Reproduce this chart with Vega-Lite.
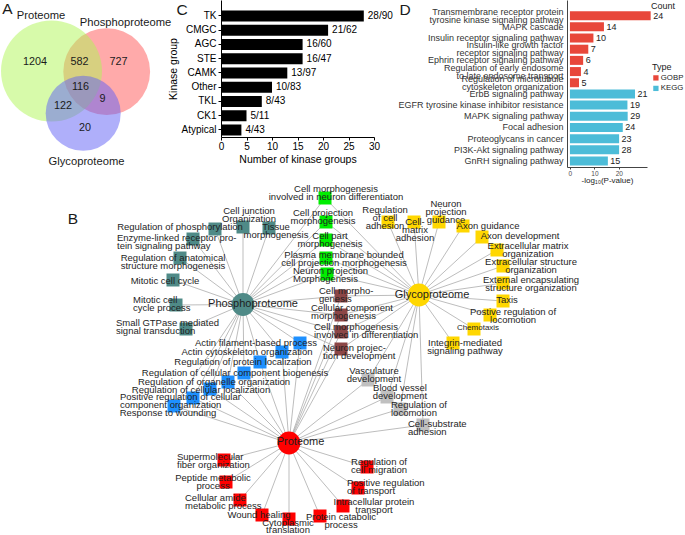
{
"$schema":"https://vega.github.io/schema/vega-lite/v6.json",
"padding":0,
"bounds":"flush",
"spacing":0,
"resolve":{"scale":{"color":"independent"},"legend":{"color":"independent"}},
"config":{"font":"Liberation Sans","view":{"stroke":null},"axis":{"grid":false,"titleFontWeight":"normal","labelFont":"Liberation Sans","titleFont":"Liberation Sans"},"legend":{"labelFont":"Liberation Sans","titleFont":"Liberation Sans"}},
"datasets":{
"venn":[{"set":"Phosphoproteome","x":106.7,"y":71.7,"r":43.4},{"set":"Proteome","x":51.5,"y":71,"r":50.5},{"set":"Glycoproteome","x":83.2,"y":113.3,"r":37.5}],
"vennLabels":[{"t":"Proteome","x":41,"y":16},{"t":"Phosphoproteome","x":125.5,"y":22.7},{"t":"Glycoproteome","x":86.5,"y":162.3}],
"vennCounts":[{"t":"1204","x":35,"y":61.7},{"t":"582","x":79.5,"y":61.7},{"t":"727","x":118.5,"y":61.7},{"t":"116","x":80.5,"y":87.3},{"t":"9","x":102.5,"y":99},{"t":"122","x":63,"y":106},{"t":"20","x":85,"y":128.3}],
"letters":[{"t":"A","x":7.5,"y":8.5},{"t":"B","x":73,"y":218.5},{"t":"C","x":182,"y":9.5},{"t":"D","x":405,"y":9.5}],
"notes":[{"t":"Count","x":663,"y":6}],
"hubs":[{"id":"P","label":"Phosphoproteome","group":"Phospho","x":243,"y":304.5,"lx":253,"ly":304},{"id":"G","label":"Glycoproteome","group":"Glyco","x":419,"y":295,"lx":432,"ly":295},{"id":"R","label":"Proteome","group":"Prot","x":289,"y":443,"lx":300.5,"ly":442}],
"nodes":[
{"id":"T1","label":"Regulation of phosphorylation","group":"Phospho","x":215,"y":229,"lx":180,"ly":227,"just":"c"},
{"id":"T2","label":"Enzyme-linked receptor pro-\ntein signaling pathway","group":"Phospho","x":193,"y":239,"lx":117,"ly":238,"just":"l"},
{"id":"T3","label":"Regulation of anatomical\nstructure morphogenesis","group":"Phospho","x":180,"y":258,"lx":173,"ly":258,"just":"c"},
{"id":"T4","label":"Mitotic cell cycle","group":"Phospho","x":173,"y":280,"lx":165,"ly":281,"just":"c"},
{"id":"T5","label":"Mitotic cell\ncycle process","group":"Phospho","x":176,"y":305,"lx":133,"ly":300,"just":"l"},
{"id":"T6","label":"Small GTPase mediated\nsignal transduction","group":"Phospho","x":186,"y":329,"lx":116,"ly":323,"just":"l"},
{"id":"T7","label":"Cell junction\nOrganization","group":"Phospho","x":243,"y":227,"lx":249,"ly":211,"just":"c"},
{"id":"T8","label":"Tissue\nmorphogenesis","group":"Phospho","x":269,"y":228,"lx":276,"ly":227,"just":"c"},
{"id":"G1","label":"Cell morphogenesis\ninvolved in neuron differentiaton","group":"PhosphoGlyco","x":325,"y":198,"lx":336,"ly":189,"just":"c"},
{"id":"G2","label":"Cell projection\nmorphogenesis","group":"PhosphoGlyco","x":326,"y":222,"lx":323,"ly":213,"just":"c"},
{"id":"G3","label":"Cell part\nmorphogenesis","group":"PhosphoGlyco","x":326,"y":240,"lx":330,"ly":236,"just":"c"},
{"id":"G4","label":"Plasma membrane bounded\ncell projection morphogenesis","group":"PhosphoGlyco","x":326,"y":258,"lx":344,"ly":255,"just":"c"},
{"id":"G5","label":"Neuron projection\nMorphogenesis","group":"PhosphoGlyco","x":327,"y":274,"lx":293,"ly":271,"just":"l"},
{"id":"B1","label":"Cell morpho-\ngenesis","group":"All","x":341,"y":296,"lx":319,"ly":291,"just":"l"},
{"id":"B2","label":"Cellular component\nmorphogenesis","group":"All","x":341,"y":315,"lx":311,"ly":308,"just":"l"},
{"id":"B3","label":"Cell morphogenesis\ninvolved in differentiation","group":"All","x":341,"y":332,"lx":314,"ly":327,"just":"l"},
{"id":"B4","label":"Neuron projec-\ntion development","group":"All","x":341,"y":349,"lx":323,"ly":348,"just":"l"},
{"id":"BL1","label":"Actin filament-based process","group":"PhosphoProt","x":300,"y":343,"lx":256,"ly":343,"just":"c"},
{"id":"BL2","label":"Actin cytoskeleton organization","group":"PhosphoProt","x":282,"y":352,"lx":247,"ly":352,"just":"c"},
{"id":"BL3","label":"Regulation of protein localization","group":"PhosphoProt","x":260,"y":362,"lx":243,"ly":362,"just":"c"},
{"id":"BL4","label":"Regulation of cellular component biogenesis","group":"PhosphoProt","x":244,"y":373,"lx":235,"ly":373,"just":"c"},
{"id":"BL5","label":"Regulation of organelle organization","group":"PhosphoProt","x":228,"y":382,"lx":214,"ly":382,"just":"c"},
{"id":"BL6","label":"Regulation of cellular localization","group":"PhosphoProt","x":210,"y":389,"lx":201,"ly":390,"just":"c"},
{"id":"BL7","label":"Positive regulation of cellular\ncomponent organization","group":"PhosphoProt","x":193,"y":398,"lx":120,"ly":397,"just":"l"},
{"id":"BL8","label":"Response to wounding","group":"PhosphoProt","x":174,"y":406,"lx":168,"ly":413,"just":"c"},
{"id":"Y1","label":"Regulation\nof cell\nadhesion","group":"Glyco","x":388,"y":222,"lx":385,"ly":210,"just":"c"},
{"id":"Y2","label":"Cell-\nmatrix\nadhesion","group":"Glyco","x":414,"y":222,"lx":415,"ly":222,"just":"c"},
{"id":"Y3","label":"Neuron\nprojection\nguidance","group":"Glyco","x":439,"y":222,"lx":446,"ly":204,"just":"c"},
{"id":"Y4","label":"Axon guidance","group":"Glyco","x":463,"y":226,"lx":488,"ly":226,"just":"c"},
{"id":"Y5","label":"Axon development","group":"Glyco","x":482,"y":237,"lx":520,"ly":236,"just":"c"},
{"id":"Y6","label":"Extracellular matrix\norganization","group":"Glyco","x":497,"y":250,"lx":528,"ly":246,"just":"c"},
{"id":"Y7","label":"Extracellular structure\norganization","group":"Glyco","x":503,"y":266,"lx":531,"ly":262,"just":"c"},
{"id":"Y8","label":"External encapsulating\nstructure organization","group":"Glyco","x":503,"y":283,"lx":531,"ly":280,"just":"c"},
{"id":"Y9","label":"Taxis","group":"Glyco","x":503,"y":301,"lx":507,"ly":300,"just":"c"},
{"id":"Y10","label":"Postive regulation of\nlocomotion","group":"Glyco","x":490,"y":315,"lx":513,"ly":312,"just":"c"},
{"id":"Y11","label":"Chemotaxis","group":"Glyco","x":474,"y":329,"lx":478,"ly":328,"just":"c"},
{"id":"Y12","label":"Integrin-mediated\nsignaling pathway","group":"Glyco","x":453,"y":343,"lx":465,"ly":343,"just":"c"},
{"id":"Gr1","label":"Vasculature\ndevelopment","group":"GlycoProt","x":368,"y":380,"lx":374,"ly":371,"just":"c"},
{"id":"Gr2","label":"Blood vessel\ndevelopment","group":"GlycoProt","x":387,"y":397,"lx":400,"ly":388,"just":"c"},
{"id":"Gr3","label":"Regulation of\nlocomotion","group":"GlycoProt","x":400,"y":409,"lx":391,"ly":405,"just":"l"},
{"id":"Gr4","label":"Cell-substrate\nadhesion","group":"GlycoProt","x":423,"y":425,"lx":408,"ly":424,"just":"l"},
{"id":"R1","label":"Supermolecular\nfiber organization","group":"Prot","x":224,"y":460,"lx":177,"ly":457,"just":"l"},
{"id":"R2","label":"Peptide metabolic\nprocess","group":"Prot","x":226,"y":482,"lx":213,"ly":478,"just":"c"},
{"id":"R3","label":"Cellular amide\nmetabolic process","group":"Prot","x":240,"y":500,"lx":185,"ly":498,"just":"l"},
{"id":"R4","label":"Wound healing","group":"Prot","x":262,"y":515,"lx":259,"ly":515,"just":"c"},
{"id":"R5","label":"Cytoplasmic\ntranslation","group":"Prot","x":289,"y":519,"lx":288,"ly":522.5,"just":"c"},
{"id":"R6","label":"Protein catabolic\nprocess","group":"Prot","x":320,"y":516,"lx":341,"ly":517,"just":"c"},
{"id":"R7","label":"Intracellular protein\ntransport","group":"Prot","x":343,"y":506,"lx":374,"ly":502,"just":"c"},
{"id":"R8","label":"Positive regulation\nof transport","group":"Prot","x":358,"y":488,"lx":347,"ly":483,"just":"l"},
{"id":"R9","label":"Regulation of\ncell migration","group":"Prot","x":367,"y":467,"lx":379,"ly":462,"just":"c"}
],
"edges":[
{"hub":"P","node":"T1"},{"hub":"P","node":"T2"},{"hub":"P","node":"T3"},{"hub":"P","node":"T4"},{"hub":"P","node":"T5"},{"hub":"P","node":"T6"},{"hub":"P","node":"T7"},{"hub":"P","node":"T8"},
{"hub":"P","node":"G1"},{"hub":"P","node":"G2"},{"hub":"P","node":"G3"},{"hub":"P","node":"G4"},{"hub":"P","node":"G5"},
{"hub":"P","node":"B1"},{"hub":"P","node":"B2"},{"hub":"P","node":"B3"},{"hub":"P","node":"B4"},
{"hub":"P","node":"BL1"},{"hub":"P","node":"BL2"},{"hub":"P","node":"BL3"},{"hub":"P","node":"BL4"},{"hub":"P","node":"BL5"},{"hub":"P","node":"BL6"},{"hub":"P","node":"BL7"},{"hub":"P","node":"BL8"},
{"hub":"G","node":"Y1"},{"hub":"G","node":"Y2"},{"hub":"G","node":"Y3"},{"hub":"G","node":"Y4"},{"hub":"G","node":"Y5"},{"hub":"G","node":"Y6"},{"hub":"G","node":"Y7"},{"hub":"G","node":"Y8"},{"hub":"G","node":"Y9"},{"hub":"G","node":"Y10"},{"hub":"G","node":"Y11"},{"hub":"G","node":"Y12"},
{"hub":"G","node":"G1"},{"hub":"G","node":"G2"},{"hub":"G","node":"G3"},{"hub":"G","node":"G4"},{"hub":"G","node":"G5"},
{"hub":"G","node":"B1"},{"hub":"G","node":"B2"},{"hub":"G","node":"B3"},{"hub":"G","node":"B4"},
{"hub":"G","node":"Gr1"},{"hub":"G","node":"Gr2"},{"hub":"G","node":"Gr3"},{"hub":"G","node":"Gr4"},
{"hub":"R","node":"R1"},{"hub":"R","node":"R2"},{"hub":"R","node":"R3"},{"hub":"R","node":"R4"},{"hub":"R","node":"R5"},{"hub":"R","node":"R6"},{"hub":"R","node":"R7"},{"hub":"R","node":"R8"},{"hub":"R","node":"R9"},
{"hub":"R","node":"BL1"},{"hub":"R","node":"BL2"},{"hub":"R","node":"BL3"},{"hub":"R","node":"BL4"},{"hub":"R","node":"BL5"},{"hub":"R","node":"BL6"},{"hub":"R","node":"BL7"},{"hub":"R","node":"BL8"},
{"hub":"R","node":"B1"},{"hub":"R","node":"B2"},{"hub":"R","node":"B3"},{"hub":"R","node":"B4"},
{"hub":"R","node":"Gr1"},{"hub":"R","node":"Gr2"},{"hub":"R","node":"Gr3"},{"hub":"R","node":"Gr4"}
],
"kinase":[
{"group":"TK","count":28,"label":"28/90"},
{"group":"CMGC","count":21,"label":"21/62"},
{"group":"AGC","count":16,"label":"16/60"},
{"group":"STE","count":16,"label":"16/47"},
{"group":"CAMK","count":13,"label":"13/97"},
{"group":"Other","count":10,"label":"10/83"},
{"group":"TKL","count":8,"label":"8/43"},
{"group":"CK1","count":5,"label":"5/11"},
{"group":"Atypical","count":4,"label":"4/43"}
],
"enrich":[
{"term":"Transmembrane receptor protein|tyrosine kinase signaling pathway","type":"GOBP","logp":33.0,"count":24},
{"term":"MAPK cascade","type":"GOBP","logp":13.9,"count":14},
{"term":"Insulin receptor signaling pathway","type":"GOBP","logp":9.6,"count":10},
{"term":"Insulin-like growth factor|receptor signaling pathway","type":"GOBP","logp":7.5,"count":7},
{"term":"Ephrin receptor signaling pathway","type":"GOBP","logp":5.4,"count":6},
{"term":"Regulation of early endosome|to late endosome transport","type":"GOBP","logp":4.5,"count":4},
{"term":"Regulation of microtubule|cytoskeleton organization","type":"GOBP","logp":3.7,"count":5},
{"term":"ErbB signaling pathway","type":"KEGG","logp":26.6,"count":21},
{"term":"EGFR tyrosine kinase inhibitor resistance","type":"KEGG","logp":23.5,"count":19},
{"term":"MAPK signaling pathway","type":"KEGG","logp":23.6,"count":29},
{"term":"Focal adhesion","type":"KEGG","logp":21.6,"count":24},
{"term":"Proteoglycans in cancer","type":"KEGG","logp":20.1,"count":23},
{"term":"PI3K-Akt signaling pathway","type":"KEGG","logp":20.1,"count":28},
{"term":"GnRH signaling pathway","type":"KEGG","logp":15.5,"count":15}
]
},
"hconcat":[
{
"width":221,"height":535,
"layer":[
{"data":{"name":"venn"},"mark":{"type":"circle","opacity":0.5},
 "encoding":{"x":{"field":"x","type":"quantitative","scale":{"domain":[0,221],"nice":false,"zero":false},"axis":null},
 "y":{"field":"y","type":"quantitative","scale":{"domain":[0,535],"reverse":true,"nice":false,"zero":false},"axis":null},
 "size":{"field":"r","type":"quantitative","scale":{"type":"pow","exponent":2,"domain":[0,50],"range":[0,10000]},"legend":null},
 "color":{"field":"set","type":"nominal","legend":null,"scale":{"domain":["Proteome","Phosphoproteome","Glycoproteome","Phospho","Glyco","Prot","PhosphoGlyco","PhosphoProt","GlycoProt","All"],"range":["#aff555","#ff5555","#5f5ff5","#4f8a87","#ffd700","#ff0000","#00ee00","#1e90ff","#c0c0c0","#8c4646"]}}}},
{"data":{"name":"vennLabels"},"mark":{"type":"text","fontSize":11.2,"color":"#1a1a1a","baseline":"middle"},
 "encoding":{"x":{"field":"x","type":"quantitative","axis":null},"y":{"field":"y","type":"quantitative","axis":null},"text":{"field":"t"}}},
{"data":{"name":"vennCounts"},"mark":{"type":"text","fontSize":10.8,"color":"#1a1a1a","baseline":"middle"},
 "encoding":{"x":{"field":"x","type":"quantitative","axis":null},"y":{"field":"y","type":"quantitative","axis":null},"text":{"field":"t"}}},
{"data":{"name":"letters"},"mark":{"type":"text","fontSize":15.5,"color":"#1a1a1a","baseline":"middle"},
 "encoding":{"x":{"field":"x","type":"quantitative","axis":null},"y":{"field":"y","type":"quantitative","axis":null},"text":{"field":"t"}}},
{"data":{"name":"notes"},"mark":{"type":"text","fontSize":9,"color":"#222","baseline":"middle"},
 "encoding":{"x":{"field":"x","type":"quantitative","axis":null},"y":{"field":"y","type":"quantitative","axis":null},"text":{"field":"t"}}},
{"data":{"name":"edges"},
 "transform":[
  {"lookup":"node","from":{"data":{"name":"nodes"},"key":"id","fields":["x","y"]},"as":["nx","ny"]},
  {"lookup":"hub","from":{"data":{"name":"hubs"},"key":"id","fields":["x","y"]},"as":["hx","hy"]}
 ],
 "mark":{"type":"rule","color":"#a0a0a0","strokeWidth":0.7},
 "encoding":{"x":{"field":"hx","type":"quantitative","axis":null},"y":{"field":"hy","type":"quantitative","axis":null},"x2":{"field":"nx"},"y2":{"field":"ny"}}},
{"data":{"name":"nodes"},"mark":{"type":"square","size":169,"opacity":1},
 "encoding":{"x":{"field":"x","type":"quantitative","axis":null},"y":{"field":"y","type":"quantitative","axis":null},
 "color":{"field":"group","type":"nominal","legend":null}}},
{"data":{"name":"hubs"},"mark":{"type":"circle","size":520,"opacity":1},
 "encoding":{"x":{"field":"x","type":"quantitative","axis":null},"y":{"field":"y","type":"quantitative","axis":null},
 "color":{"field":"group","type":"nominal","legend":null}}},
{"data":{"name":"hubs"},"mark":{"type":"text","fontSize":11,"color":"#1e1e1e","baseline":"middle"},
 "encoding":{"x":{"field":"lx","type":"quantitative","axis":null},"y":{"field":"ly","type":"quantitative","axis":null},"text":{"field":"label"}}},
{"data":{"name":"nodes"},"transform":[{"filter":"datum.just === 'c' && datum.id !== 'Y11'"}],
 "mark":{"type":"text","fontSize":9.5,"lineBreak":"\n","lineHeight":7.8,"align":"center","baseline":"middle","color":"#1e1e1e"},
 "encoding":{"x":{"field":"lx","type":"quantitative","axis":null},"y":{"field":"ly","type":"quantitative","axis":null},"text":{"field":"label"}}},
{"data":{"name":"nodes"},"transform":[{"filter":"datum.just === 'l'"}],
 "mark":{"type":"text","fontSize":9.5,"lineBreak":"\n","lineHeight":7.8,"align":"left","baseline":"middle","color":"#1e1e1e"},
 "encoding":{"x":{"field":"lx","type":"quantitative","axis":null},"y":{"field":"ly","type":"quantitative","axis":null},"text":{"field":"label"}}},
{"data":{"name":"nodes"},"transform":[{"filter":"datum.id === 'Y11'"}],
 "mark":{"type":"text","fontSize":8,"align":"center","baseline":"middle","color":"#1e1e1e"},
 "encoding":{"x":{"field":"lx","type":"quantitative","axis":null},"y":{"field":"ly","type":"quantitative","axis":null},"text":{"field":"label"}}}
]
},
{
"width":153,"height":137,
"data":{"name":"kinase"},
"encoding":{
 "y":{"field":"group","type":"nominal","sort":null,"scale":{"paddingInner":0.228,"paddingOuter":0.421,"align":0.875},
  "axis":{"title":"Kinase group","titleFontSize":10.5,"titlePadding":2,"labelFontSize":10,"tickSize":3,"labelPadding":2,"domainColor":"#000","tickColor":"#000","labelColor":"#000","titleColor":"#000"}},
 "x":{"field":"count","type":"quantitative","scale":{"domain":[0,30],"nice":false},
  "axis":{"values":[0,5,10,15,20,25,30],"title":"Number of kinase groups","titleFontSize":10.5,"labelFontSize":10,"tickSize":3,"labelPadding":1,"titlePadding":3,"labelFlush":false,"domainColor":"#000","tickColor":"#000","labelColor":"#000","titleColor":"#000"}}
},
"layer":[
 {"mark":{"type":"bar","color":"#000"}},
 {"mark":{"type":"text","align":"left","dx":4,"fontSize":10,"color":"#000"},"encoding":{"text":{"field":"label"}}}
]
},
{
"width":193,"height":10,
"data":{"values":[{"a":1}]},
"mark":{"type":"point","opacity":0}
},
{
"width":80,"height":167,
"data":{"name":"enrich"},
"encoding":{
 "y":{"field":"term","type":"nominal","sort":null,"scale":{"paddingInner":0.195,"paddingOuter":0.566,"align":0.882},
  "axis":{"title":null,"ticks":false,"labelPadding":4,"labelFontSize":9,"labelColor":"#333","labelExpr":"split(datum.label, '|')","labelLineHeight":8,"labelLimit":300,"domainColor":"#444",
   "labelOffset":{"condition":{"test":"indexof(datum.label, '|') >= 0","value":-4},"value":0}}},
 "x":{"field":"logp","type":"quantitative","scale":{"domain":[-1.2,31.5],"nice":false,"zero":false},
  "axis":{"values":[0,10,20],"title":"-log₁₀(P-value)","titleFontSize":8,"labelFontSize":6.5,"tickSize":2,"labelPadding":1,"titlePadding":0,"labelFlush":false,"domainColor":"#444","tickColor":"#444","labelColor":"#4d4d4d","titleColor":"#222"}}
},
"layer":[
 {"mark":{"type":"bar"},"encoding":{"color":{"field":"type","type":"nominal","scale":{"domain":["GOBP","KEGG"],"range":["#e8473a","#4cbcd8"]},
  "legend":{"orient":"none","legendX":85,"legendY":63,"title":"Type","titleFontSize":9,"titleFontWeight":"normal","titleColor":"#222","labelFontSize":7.8,"labelColor":"#222","symbolType":"square","symbolSize":28,"symbolStrokeWidth":0,"labelOffset":1,"rowPadding":1.5,"titlePadding":2,"padding":0}}}},
 {"mark":{"type":"text","align":"left","dx":2.5,"fontSize":9,"color":"#222"},"encoding":{"text":{"field":"count"}}}
]
}
]
}
